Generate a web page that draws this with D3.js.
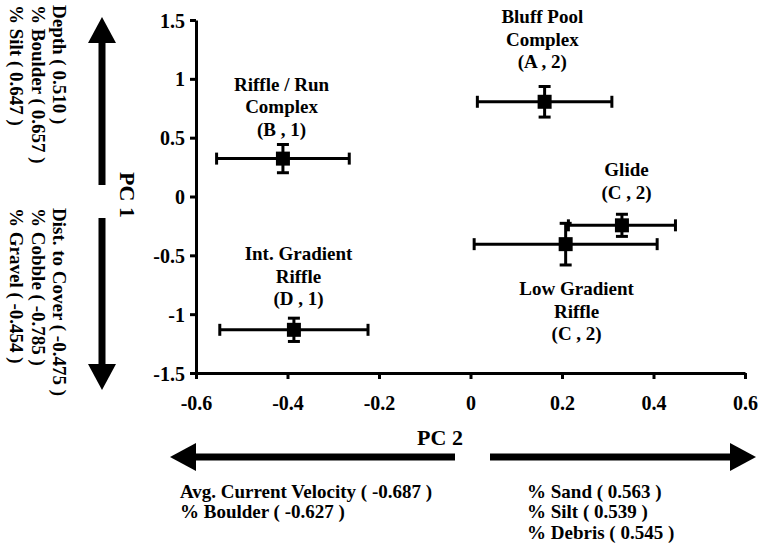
<!DOCTYPE html>
<html lang="en">
<head>
<meta charset="UTF-8">
<title>PCA habitat scores</title>
<script src="https://d3js.org/d3.v7.min.js"></script>
<style>
    body { margin: 0; background: #fff; }
    svg text {
        font-family: "Liberation Serif", "Times New Roman", serif;
        font-weight: bold;
        fill: #000;
    }
</style>
</head>
<body>
<div id="chart"></div>
<script>
    // habitat groups (label lines) and their mean scores with error
    const labels = [
        ["Bluff Pool", "Complex", "(A , 2)"],
        ["Riffle / Run", "Complex", "(B , 1)"],
        ["Glide", "(C , 2)"],
        ["Low Gradient", "Riffle", "(C , 2)"],
        ["Int. Gradient", "Riffle", "(D , 1)"]
    ];
    const pc2 = [0.162, -0.410, 0.331, 0.208, -0.386];
    const pc1 = [0.805, 0.322, -0.245, -0.405, -1.133];
    const pc2Err = [0.147, 0.145, 0.117, 0.200, 0.162];
    const pc1Err = [0.130, 0.120, 0.094, 0.177, 0.099];

    // where each label sits (data units) - first line centre
    const labelX = [0.157, -0.413, 0.341, 0.232, -0.376];
    const labelY = [1.524, 0.949, 0.221, -0.789, -0.492];

    const xTicks = [-0.6, -0.4, -0.2, 0, 0.2, 0.4, 0.6];
    const yTicks = [-1.5, -1, -0.5, 0, 0.5, 1, 1.5];

    // loadings shown along the axes
    const pc1Pos = ["Depth ( 0.510 )", "% Boulder ( 0.657 )", "% Silt ( 0.647 )"];
    const pc1Neg = ["Dist. to Cover ( -0.475 )", "% Cobble ( -0.785 )", "% Gravel ( -0.454 )"];
    const pc2Neg = ["Avg. Current Velocity ( -0.687 )", "% Boulder ( -0.627 )"];
    const pc2Pos = ["% Sand ( 0.563 )", "% Silt ( 0.539 )", "% Debris ( 0.545 )"];

    const width = 758, height = 543;

    const svg = d3.select("#chart").append("svg")
        .attr("width", width)
        .attr("height", height);

    const x = d3.scaleLinear().domain([-0.6, 0.6]).range([196, 745]);
    const y = d3.scaleLinear().domain([-1.5, 1.5]).range([373, 20]);

    // axes
    const yAxis = svg.append("g")
        .attr("transform", "translate(196,0)")
        .call(d3.axisLeft(y).tickValues(yTicks).tickFormat(d => String(d))
            .tickSize(6).tickSizeOuter(0).tickPadding(5));

    const xAxis = svg.append("g")
        .attr("transform", "translate(0,373)")
        .call(d3.axisBottom(x).tickValues(xTicks).tickFormat(d => String(d))
            .tickSize(6).tickSizeOuter(0).tickPadding(17));

    [xAxis, yAxis].forEach(g => {
        g.select(".domain").attr("stroke", "#000").attr("stroke-width", 3);
        g.selectAll(".tick line").attr("stroke", "#000").attr("stroke-width", 3);
        g.selectAll(".tick text").style("font-size", "20px");
    });
    yAxis.selectAll(".tick text").attr("dy", "0.35em");

    // error bars + markers
    const pts = d3.range(pc1.length);
    const bars = svg.append("g").attr("stroke", "#000").attr("stroke-width", 3);

    pts.forEach(i => {
        const cx = x(pc2[i]), cy = y(pc1[i]);
        const x0 = x(pc2[i] - pc2Err[i]), x1 = x(pc2[i] + pc2Err[i]);
        const y0 = y(pc1[i] + pc1Err[i]), y1 = y(pc1[i] - pc1Err[i]);
        bars.append("line").attr("x1", x0).attr("x2", x1).attr("y1", cy).attr("y2", cy);
        bars.append("line").attr("x1", x0).attr("x2", x0).attr("y1", cy - 6).attr("y2", cy + 6);
        bars.append("line").attr("x1", x1).attr("x2", x1).attr("y1", cy - 6).attr("y2", cy + 6);
        bars.append("line").attr("x1", cx).attr("x2", cx).attr("y1", y0).attr("y2", y1);
        bars.append("line").attr("x1", cx - 6).attr("x2", cx + 6).attr("y1", y0).attr("y2", y0);
        bars.append("line").attr("x1", cx - 6).attr("x2", cx + 6).attr("y1", y1).attr("y2", y1);
    });

    svg.append("g")
        .selectAll("rect")
        .data(pts)
        .enter().append("rect")
        .attr("x", i => x(pc2[i]) - 7)
        .attr("y", i => y(pc1[i]) - 7)
        .attr("width", 14)
        .attr("height", 14)
        .attr("fill", "#000");

    // point labels
    pts.forEach(i => {
        const t = svg.append("text")
            .attr("text-anchor", "middle")
            .style("font-size", "19px");
        labels[i].forEach((line, k) => {
            t.append("tspan")
                .attr("x", x(labelX[i]))
                .attr("y", y(labelY[i]) + 6 + k * 22.5)
                .text(line);
        });
    });

    // PC arrows
    const arrow = (x1, y1, x2, y2) => {
        const g = svg.append("g");
        const ang = Math.atan2(y2 - y1, x2 - x1);
        const hl = 26, hw = 14;
        const bx = x2 - hl * Math.cos(ang), by = y2 - hl * Math.sin(ang);
        g.append("line")
            .attr("x1", x1).attr("y1", y1).attr("x2", bx).attr("y2", by)
            .attr("stroke", "#000").attr("stroke-width", 7);
        const px = -Math.sin(ang) * hw, py = Math.cos(ang) * hw;
        g.append("path")
            .attr("d", `M${x2},${y2}L${bx + px},${by + py}L${bx - px},${by - py}Z`)
            .attr("fill", "#000");
    };

    arrow(102, 185, 102, 17);
    arrow(102, 218, 102, 390);
    arrow(455, 457, 170, 457);
    arrow(490, 457, 756, 457);

    svg.append("text")
        .attr("transform", "translate(128,195) rotate(90)")
        .attr("text-anchor", "middle")
        .attr("dy", "0.35em")
        .style("font-size", "22px")
        .text("PC 1");

    svg.append("text")
        .attr("x", 440).attr("y", 437)
        .attr("text-anchor", "middle")
        .attr("dy", "0.35em")
        .style("font-size", "22px")
        .text("PC 2");

    // rotated loading text, first line on the right
    const colX = [60, 38.5, 17];
    pc1Pos.forEach((s, k) => {
        svg.append("text")
            .attr("transform", `translate(${colX[k]},5) rotate(90)`)
            .attr("dy", "0.35em")
            .style("font-size", "19px")
            .text(s);
    });
    pc1Neg.forEach((s, k) => {
        svg.append("text")
            .attr("transform", `translate(${colX[k]},208) rotate(90)`)
            .attr("dy", "0.35em")
            .style("font-size", "19px")
            .text(s);
    });

    pc2Neg.forEach((s, k) => {
        svg.append("text")
            .attr("x", 180).attr("y", 491 + k * 20.5)
            .attr("dy", "0.35em")
            .style("font-size", "19px")
            .text(s);
    });
    pc2Pos.forEach((s, k) => {
        svg.append("text")
            .attr("x", 527).attr("y", 491 + k * 20.5)
            .attr("dy", "0.35em")
            .style("font-size", "19px")
            .text(s);
    });
</script>
</body>
</html>
